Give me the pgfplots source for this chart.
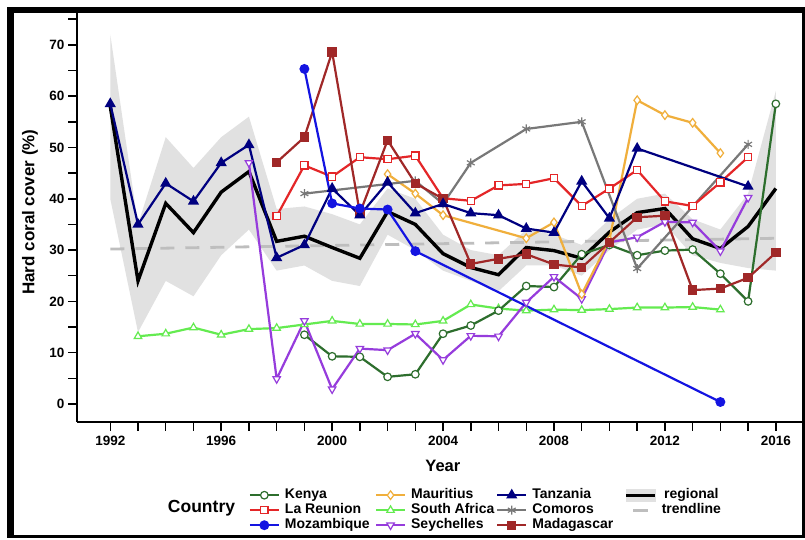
\documentclass[border=0pt]{standalone}
\usepackage{pgfplots}
\pgfplotsset{compat=1.18}
\usepackage{fontspec}
\setmainfont{Liberation Sans}
\setsansfont{Liberation Sans}
\definecolor{ckenya}{RGB}{45,110,45}
\definecolor{creunion}{RGB}{228,38,40}
\definecolor{cmoz}{RGB}{20,20,225}
\definecolor{cmaur}{RGB}{240,175,60}
\definecolor{csaf}{RGB}{100,235,80}
\definecolor{cseych}{RGB}{150,60,220}
\definecolor{ctanz}{RGB}{0,0,128}
\definecolor{ccom}{RGB}{120,120,120}
\definecolor{cmada}{RGB}{160,40,40}
\definecolor{cband}{RGB}{225,225,225}
\definecolor{ctrend}{RGB}{190,190,190}
\begin{document}
\begin{tikzpicture}
\useasboundingbox (0pt,0pt) rectangle (805pt,540pt);
\fill[white] (0pt,0pt) rectangle (805pt,540pt);
\fill[black] (7pt,2pt) rectangle (14pt,533pt);
\fill[black] (7pt,527pt) rectangle (805pt,533pt);
\fill[black] (7pt,2pt) rectangle (805pt,5pt);
\fill[black] (802pt,2pt) rectangle (805pt,533pt);
\begin{axis}[
  at={(77pt,118pt)}, anchor=south west,
  scale only axis, width=726pt, height=409pt,
  xmin=1990.8, xmax=2016.98, ymin=-3.5, ymax=76.2,
  axis x line*=bottom, axis y line*=left,
  axis line style={line width=2.4pt,-},
  xtick={1992,1996,2000,2004,2008,2012,2016},
  minor xtick={1993,1994,1995,1997,1998,1999,2001,2002,2003,2005,2006,2007,2009,2010,2011,2013,2014,2015},
  ytick={0,10,20,30,40,50,60,70},
  minor ytick={5,15,25,35,45,55,65,75},
  tick align=outside, major tick length=9pt, minor tick length=9pt,
  major tick style={line width=1.5pt,black},
  minor tick style={line width=1.5pt,black},
  /pgf/number format/assume math mode=true,
  x tick label style={/pgf/number format/1000 sep={},yshift=-2pt},
  tick label style={font=\bfseries\fontsize{13.5}{15}\selectfont},
  xlabel={Year}, ylabel={Hard coral cover (\%)},
  xlabel style={at={(axis description cs:0.504,-0.107)},anchor=center,font=\bfseries\fontsize{16.5}{18}\selectfont},
  ylabel style={at={(axis description cs:-0.0646,0.513)},anchor=center,font=\bfseries\fontsize{17}{19}\selectfont},
  legend columns=4,
  legend style={at={(axis description cs:0.2363,-0.162)},anchor=north west,draw=none,fill=none,
    font=\bfseries\fontsize{14}{15}\selectfont,inner sep=0pt,row sep=1.5pt,
    /tikz/every odd column/.append style={column sep=5pt},
    nodes={inner sep=0pt,text height=10.5pt,text depth=3pt}},
  legend image code/.code={\draw[mark repeat=2,mark phase=2] plot coordinates {(0pt,0pt) (14.5pt,0pt) (29pt,0pt)};},
]
% legend entries (row-wise)
\addlegendimage{ckenya,line width=2.2pt,mark=*,mark size=3.8pt,mark options={fill=white,line width=1.2pt}}
\addlegendentry{\makebox[90pt][l]{Kenya}}
\addlegendimage{cmaur,line width=2.2pt,mark=diamond*,mark size=4.3pt,mark options={fill=white,line width=1.2pt}}
\addlegendentry{\makebox[85pt][l]{Mauritius}}
\addlegendimage{ctanz,line width=2.2pt,mark=triangle*,mark size=4.3pt}
\addlegendentry{\makebox[92pt][l]{Tanzania}}
\addlegendimage{legend image code/.code={\fill[cband] (0pt,-6pt) rectangle (29pt,6pt); \draw[black,line width=3.4pt] (0pt,0pt)--(29pt,0pt);}}
\addlegendentry{regional}
\addlegendimage{creunion,line width=2.2pt,mark=square*,mark size=3.6pt,mark options={fill=white,line width=1.2pt}}
\addlegendentry{\makebox[90pt][l]{La Reunion}}
\addlegendimage{csaf,line width=2.2pt,mark=triangle*,mark size=4.3pt,mark options={fill=white,line width=1.2pt}}
\addlegendentry{\makebox[85pt][l]{South Africa}}
\addlegendimage{ccom,line width=2.2pt,mark=asterisk,mark size=4.5pt,mark options={line width=1.2pt}}
\addlegendentry{\makebox[92pt][l]{Comoros}}
\addlegendimage{legend image code/.code={\draw[ctrend,line width=2.8pt] (7pt,0pt)--(22pt,0pt);}}
\addlegendentry{trendline}
\addlegendimage{cmoz,line width=2.2pt,mark=*,mark size=3.8pt}
\addlegendentry{\makebox[90pt][l]{Mozambique}}
\addlegendimage{cseych,line width=2.2pt,mark=triangle*,mark size=4.3pt,mark options={fill=white,line width=1.2pt,rotate=180}}
\addlegendentry{\makebox[85pt][l]{Seychelles}}
\addlegendimage{cmada,line width=2.2pt,mark=square*,mark size=3.6pt}
\addlegendentry{\makebox[92pt][l]{Madagascar}}
% band (upper forward, lower backward)
\addplot[fill=cband,draw=none,forget plot] coordinates {(1992,72)(1993,35)(1994,52)(1995,46)(1996,52)(1997,56)(1998,38)(1999,38.5)(2000,37)(2001,35)(2002,42)(2003,40)(2004,33)(2005,30)(2006,29)(2007,34)(2008,33)(2009,31)(2010,36)(2011,40)(2012,41)(2013,36)(2014,34)(2015,41)(2016,61)
 (2016,26)(2015,26.5)(2014,27.5)(2013,29)(2012,35)(2011,34)(2010,30)(2009,25)(2008,27)(2007,27)(2006,22)(2005,24)(2004,26)(2003,30)(2002,33)(2001,23)(2000,24)(1999,27)(1998,26)(1997,34)(1996,29)(1995,21)(1994,24)(1993,14)(1992,40)};
% trendline
\addplot[ctrend,line width=2.8pt,dash pattern=on 14pt off 11pt,forget plot] coordinates {(1992,30.2)(2016,32.3)};
% regional
\addplot[black,line width=3.4pt,forget plot] coordinates {(1992,58)(1993,24)(1994,39.1)(1995,33.4)(1996,41.3)(1997,45.3)(1998,31.7)(1999,32.7)(2000,30.5)(2001,28.4)(2002,37.5)(2003,35)(2004,29.3)(2005,26.6)(2006,25.2)(2007,30.5)(2008,29.9)(2009,28.4)(2010,33.5)(2011,37.3)(2012,38.1)(2013,32.2)(2014,30.3)(2015,34.6)(2016,42)};
% South Africa
\addplot[csaf,line width=2.2pt,mark=triangle*,mark size=4.3pt,mark options={fill=white,line width=1.2pt},forget plot] coordinates {(1993,13.2)(1994,13.7)(1995,14.9)(1996,13.5)(1997,14.6)(1998,14.8)(1999,15.5)(2000,16.2)(2001,15.6)(2002,15.6)(2003,15.5)(2004,16.2)(2005,19.4)(2006,18.6)(2007,18.2)(2008,18.4)(2009,18.3)(2010,18.5)(2011,18.8)(2012,18.8)(2013,18.9)(2014,18.4)};
% Kenya
\addplot[ckenya,line width=2.2pt,mark=*,mark size=3.8pt,mark options={fill=white,line width=1.2pt},forget plot] coordinates {(1999,13.5)(2000,9.3)(2001,9.2)(2002,5.3)(2003,5.8)(2004,13.7)(2005,15.3)(2006,18.2)(2007,23)(2008,22.8)(2009,29.2)(2010,31)(2011,29)(2012,29.9)(2013,30.1)(2014,25.4)(2015,20)(2016,58.5)};
% Seychelles
\addplot[cseych,line width=2.2pt,mark=triangle*,mark size=4.3pt,mark options={fill=white,line width=1.2pt,rotate=180},forget plot] coordinates {(1997,47)(1998,4.9)(1999,16.2)(2000,2.9)(2001,10.8)(2002,10.5)(2003,13.7)(2004,8.6)(2005,13.3)(2006,13.2)(2007,19.8)(2008,24.8)(2009,20.5)(2010,31.5)(2011,32.5)(2012,35.5)(2013,35.4)(2014,29.8)(2015,40.2)};
% Mauritius
\addplot[cmaur,line width=2.2pt,mark=diamond*,mark size=4.3pt,mark options={fill=white,line width=1.2pt},forget plot] coordinates {(2002,44.8)(2003,41)(2004,36.8)(2007,32.3)(2008,35.4)(2009,21.4)(2010,32)(2011,59.2)(2012,56.3)(2013,54.8)(2014,48.9)};
% Comoros
\addplot[ccom,line width=2.2pt,mark=asterisk,mark size=4.5pt,mark options={line width=1.2pt},forget plot] coordinates {(1999,41)(2003,43.5)(2004,39)(2005,47)(2007,53.6)(2009,55)(2011,26.4)(2015,50.6)};
% La Reunion
\addplot[creunion,line width=2.2pt,mark=square*,mark size=3.6pt,mark options={fill=white,line width=1.2pt},forget plot] coordinates {(1998,36.6)(1999,46.5)(2000,44.3)(2001,48.1)(2002,47.7)(2003,48.4)(2004,40.1)(2005,39.6)(2006,42.6)(2007,42.9)(2008,44)(2009,38.6)(2010,42)(2011,45.6)(2012,39.5)(2013,38.6)(2014,43.2)(2015,48.1)};
% Madagascar
\addplot[cmada,line width=2.2pt,mark=square*,mark size=3.6pt,forget plot] coordinates {(1998,47.1)(1999,52)(2000,68.6)(2001,37.2)(2002,51.4)(2003,43)(2004,40)(2005,27.3)(2006,28.3)(2007,29.2)(2008,27.2)(2009,26.6)(2010,31.5)(2011,36.4)(2012,36.7)(2013,22.2)(2014,22.5)(2015,24.6)(2016,29.5)};
% Tanzania
\addplot[ctanz,line width=2.2pt,mark=triangle*,mark size=4.3pt,forget plot] coordinates {(1992,58.5)(1993,35)(1994,43)(1995,39.5)(1996,47)(1997,50.5)(1998,28.5)(1999,31)(2000,42)(2001,36.8)(2002,43.2)(2003,37.2)(2004,39)(2005,37.2)(2006,36.8)(2007,34.2)(2008,33.4)(2009,43.4)(2010,36.2)(2011,49.8)(2015,42.4)};
% Mozambique
\addplot[cmoz,line width=2.2pt,mark=*,mark size=3.8pt,forget plot] coordinates {(1999,65.3)(2000,39.1)(2001,38.1)(2002,37.9)(2003,29.8)(2014,0.4)};
\end{axis}
\node[font=\bfseries\fontsize{17.5}{19}\selectfont] at (201.5pt,32pt) {Country};
\end{tikzpicture}
\end{document}
